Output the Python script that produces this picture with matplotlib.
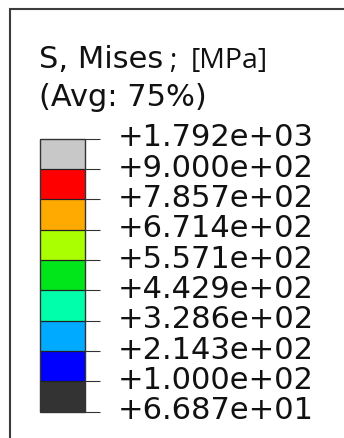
import matplotlib
matplotlib.use("Agg")
import matplotlib.pyplot as plt
import matplotlib.transforms as mtransforms
from matplotlib.colors import ListedColormap, BoundaryNorm
from matplotlib.cm import ScalarMappable
from matplotlib.patches import Rectangle

# Contour levels of the von Mises stress legend (bottom to top)
levels = [66.87, 100.0, 214.3, 328.6, 442.9, 557.1, 671.4, 785.7, 900.0, 1792.0]
level_labels = ["+6.687e+01", "+1.000e+02", "+2.143e+02", "+3.286e+02", "+4.429e+02",
                "+5.571e+02", "+6.714e+02", "+7.857e+02", "+9.000e+02", "+1.792e+03"]
band_colors = ["#333333", "#0000FF", "#00AAFF", "#00FFAA", "#00E61A",
               "#AAFF00", "#FFAA00", "#FF0000", "#C8C8C8"]

title_main = "S, Mises"
title_sep = ";"
title_unit = "[MPa]"
title_avg = "(Avg: 75%)"

W, H, DPI = 344, 439, 100
fig = plt.figure(figsize=(W / DPI, H / DPI), dpi=DPI)
fig.patch.set_facecolor("white")

def fx(px):
    return px / W

def fy(py):
    return 1 - py / H

# legend frame (runs off the right and bottom edges)
frame = Rectangle((fx(9.5), -0.1), 2.0, fy(9.5) + 0.1, transform=fig.transFigure,
                  fill=False, edgecolor="#3c3c3c", linewidth=1.5)
fig.add_artist(frame)

# titles
fig.text(fx(39), fy(68), title_main, fontsize=22, va="baseline", ha="left",
         family="DejaVu Sans", color="#111111")
fig.text(fx(169), fy(68), title_sep, fontsize=20, va="baseline", ha="left",
         family="Open Sans", color="#111111")
fig.text(fx(191), fy(68), title_unit, fontsize=20.5, va="baseline", ha="left",
         family="Open Sans", color="#111111")
fig.text(fx(39), fy(106), title_avg, fontsize=22, va="baseline", ha="left",
         family="DejaVu Sans", color="#111111")

# colour bar
cax = fig.add_axes([fx(40), 1 - 412.5 / H, 45 / W, 273 / H])
cmap = ListedColormap(band_colors)
norm = BoundaryNorm(levels, cmap.N)
cb = fig.colorbar(ScalarMappable(norm=norm, cmap=cmap), cax=cax, spacing="uniform",
                  ticks=levels, drawedges=True)
cb.minorticks_off()
cax.yaxis.set_ticks_position("right")
cax.tick_params(axis="y", which="major", length=10.8, width=0.8, color="#333333",
                labelright=False, labelleft=False, right=True, left=False)
cb.outline.set_edgecolor("#333333")
cb.outline.set_linewidth(1.0)
cb.dividers.set_color("#222222")
cb.dividers.set_linewidth(0.9)

label_trans = (mtransforms.blended_transform_factory(cax.transAxes, cax.transData)
               + mtransforms.ScaledTranslation(0, -7 / DPI, fig.dpi_scale_trans))
for v, s in zip(levels, level_labels):
    cax.text(78 / 45, v, s, transform=label_trans, fontsize=22, va="baseline",
             ha="left", family="DejaVu Sans", color="#111111", clip_on=False)

fig.savefig("out.png", dpi=DPI)
